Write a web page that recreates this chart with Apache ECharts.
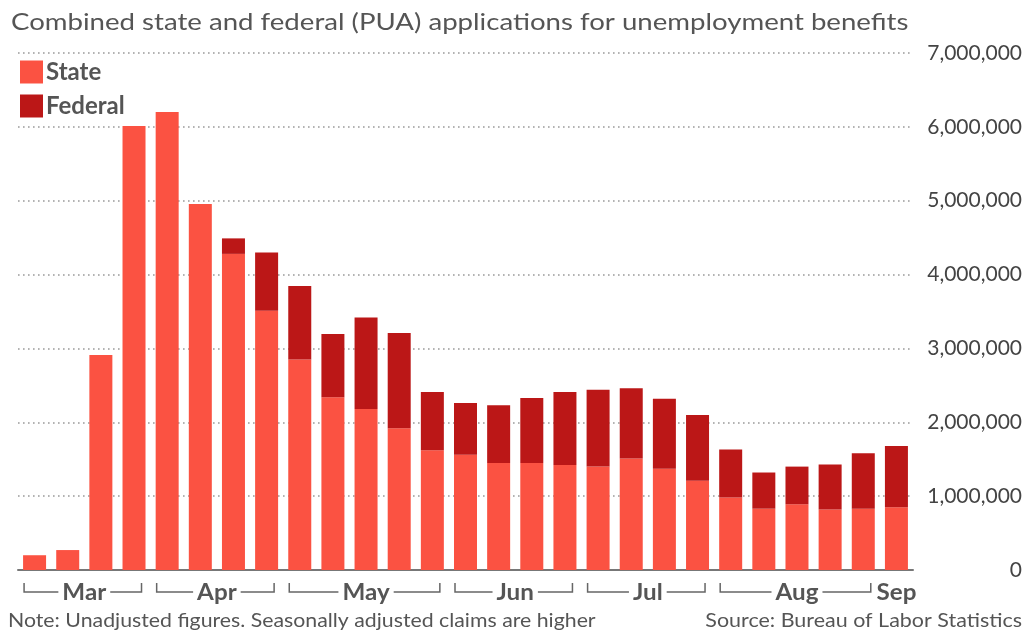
<!DOCTYPE html>
<html>
<head>
<meta charset="utf-8">
<title>Unemployment benefit applications</title>
<script src="https://cdn.jsdelivr.net/npm/echarts@6/dist/echarts.min.js"></script>
<style>
  html, body { margin: 0; padding: 0; background: #fff; }
  #chart { width: 1026px; height: 633px; }
</style>
</head>
<body>
<div id="chart"></div>
<script>
// Week-ending dates of the weekly claims reports (2020)
const weeks = [
  '2020-03-07', '2020-03-14', '2020-03-21', '2020-03-28',
  '2020-04-04', '2020-04-11', '2020-04-18', '2020-04-25',
  '2020-05-02', '2020-05-09', '2020-05-16', '2020-05-23', '2020-05-30',
  '2020-06-06', '2020-06-13', '2020-06-20', '2020-06-27',
  '2020-07-04', '2020-07-11', '2020-07-18', '2020-07-25',
  '2020-08-01', '2020-08-08', '2020-08-15', '2020-08-22', '2020-08-29',
  '2020-09-05'
];

// State initial claims (not seasonally adjusted)
const stateClaims = [
  200000, 270000, 2910000, 6010000,
  6200000, 4955000, 4280000, 3510000,
  2850000, 2340000, 2180000, 1920000, 1620000,
  1560000, 1450000, 1450000, 1420000,
  1400000, 1510000, 1370000, 1210000,
  980000, 830000, 890000, 820000, 830000,
  850000
];

// Federal Pandemic Unemployment Assistance (PUA) claims
const federalClaims = [
  0, 0, 0, 0,
  0, 0, 210000, 790000,
  995000, 855000, 1240000, 1290000, 790000,
  700000, 780000, 880000, 990000,
  1040000, 950000, 950000, 890000,
  650000, 490000, 510000, 610000, 750000,
  830000
];

const seriesNames = ['State', 'Federal'];
const monthNames = ['Jan', 'Feb', 'Mar', 'Apr', 'May', 'Jun', 'Jul', 'Aug', 'Sep', 'Oct', 'Nov', 'Dec'];
const yMax = 7000000;
const yStep = 1000000;

const titleText = 'Combined state and federal (PUA) applications for unemployment benefits';
const noteText = 'Note: Unadjusted figures. Seasonally adjusted claims are higher';
const sourceText = 'Source: Bureau of Labor Statistics';

const FONT = 'Lato, "Noto Sans", sans-serif';
const STATE_COLOR = '#fb5242';
const FEDERAL_COLOR = '#bb1717';
const TEXT_COLOR = '#555';
const BAR_WIDTH = 23;

const chart = echarts.init(document.getElementById('chart'), null, { renderer: 'canvas' });

const option = {
  animation: false,
  backgroundColor: '#fff',
  textStyle: { fontFamily: FONT },
  legend: {
    data: seriesNames,
    orient: 'vertical',
    left: 20,
    top: 60,
    padding: 0,
    itemWidth: 23,
    itemHeight: 23,
    itemGap: 10,
    icon: 'rect',
    textStyle: { fontFamily: FONT, fontSize: 24, fontWeight: 'bold', color: TEXT_COLOR, padding: [0, 0, 0, -2] }
  },
  grid: { left: 18, right: 113, top: 53, bottom: 63, containLabel: false },
  xAxis: {
    type: 'category',
    data: weeks,
    axisLine: { show: true, lineStyle: { color: '#777', width: 2 } },
    axisTick: { show: false },
    axisLabel: { show: false },
    splitLine: { show: false }
  },
  yAxis: {
    type: 'value',
    position: 'right',
    min: 0,
    max: yMax,
    interval: yStep,
    axisLine: { show: false },
    axisTick: { show: false },
    axisLabel: {
      margin: 109,
      align: 'right',
      fontFamily: FONT,
      fontSize: 21,
      color: '#444',
      formatter: v => v.toLocaleString('en-US')
    },
    splitLine: { show: true, lineStyle: { color: '#9a9a9a', width: 1.6, type: [1.6, 3.4] } }
  },
  series: [
    {
      name: seriesNames[0],
      type: 'bar',
      stack: 'claims',
      barWidth: BAR_WIDTH,
      itemStyle: { color: STATE_COLOR },
      data: stateClaims
    },
    {
      name: seriesNames[1],
      type: 'bar',
      stack: 'claims',
      barWidth: BAR_WIDTH,
      itemStyle: { color: FEDERAL_COLOR },
      data: federalClaims
    }
  ]
};

chart.setOption(option);

function measure(text, size, weight) {
  const ctx = document.createElement('canvas').getContext('2d');
  ctx.font = weight + ' ' + size + 'px ' + FONT;
  return ctx.measureText(text).width;
}

// Horizontally widened text block anchored at (x, y)
function wideText(text, x, y, size, weight, scaleX, align) {
  return {
    type: 'text',
    x: x,
    y: y,
    scaleX: scaleX,
    style: {
      text: text,
      fill: TEXT_COLOR,
      font: weight + ' ' + size + 'px ' + FONT,
      align: align,
      verticalAlign: 'middle'
    }
  };
}

// Month brackets under the axis, grouped from the week-ending dates
function buildAnnotations() {
  const groups = [];
  weeks.forEach((w, i) => {
    const m = new Date(w + 'T00:00:00').getMonth();
    const last = groups[groups.length - 1];
    if (last && last.month === m) last.end = i;
    else groups.push({ month: m, start: i, end: i });
  });

  const barHalf = BAR_WIDTH / 2;
  const yLine = 592;
  const yTop = 583;
  const labelSize = 22;
  const labelScale = 1.1;
  const elements = [];
  const lineStyle = { stroke: '#666', lineWidth: 1.5, fill: null };

  groups.forEach(g => {
    const label = monthNames[g.month];
    const xa = chart.convertToPixel({ xAxisIndex: 0 }, weeks[g.start]);
    const xb = chart.convertToPixel({ xAxisIndex: 0 }, weeks[g.end]);
    const cx = (xa + xb) / 2;
    elements.push(wideText(label, cx, yLine + 1, labelSize, 'bold', labelScale, 'center'));
    if (g.end > g.start) {
      const left = xa - barHalf + 1;
      const right = xb + barHalf - 4;
      const tw = measure(label, labelSize, 'bold') * labelScale;
      const gap = 4;
      [
        [[left, yTop], [left, yLine], [cx - tw / 2 - gap, yLine]],
        [[cx + tw / 2 + gap, yLine], [right, yLine], [right, yTop]]
      ].forEach(p => elements.push({ type: 'polyline', shape: { points: p }, style: lineStyle }));
    }
  });

  elements.push(wideText(titleText, 11, 22, 24, 'normal', 1.15, 'left'));
  elements.push(wideText(noteText, 8, 621, 19, 'normal', 1.12, 'left'));
  elements.push(wideText(sourceText, 1022, 621, 19, 'normal', 1.13, 'right'));

  chart.setOption({ graphic: { elements: elements } });
}

buildAnnotations();
</script>
</body>
</html>
